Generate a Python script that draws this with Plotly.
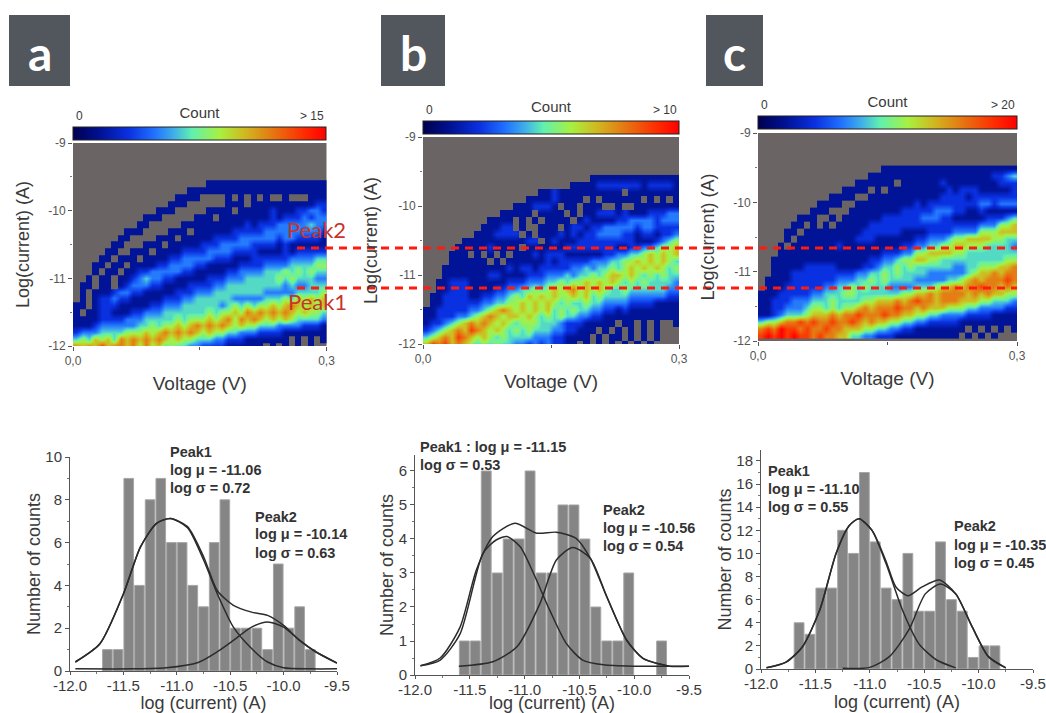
import plotly.graph_objects as go

W, H = 1046, 713
ROW_STEP = 0.1
N_COLS = 40

# ---- Heatmap levels: '.' = empty, 0-9 = tenths of the colour range.
# Rows run from the top of the filled area down, in groups of ten columns.
row_tops = [-9.6, -9.6, -9.52]
heat_a = [
".......... .......... .111111111 1111111111",
".......... ........11 1111111111 1111111111",
".......... ......1111 ....1.1.1. 1..1...111",
".......... .....111.. ....111.11 1111111122",
".......... ...111.... .1111.1111 1211122332",
".......... .111.....1 11.1111111 1212223233",
".......... 11.....111 1111111212 2233333433",
"........11 1....111.1 1111122222 3333333332",
".......11. ...111.111 1122223333 3323322221",
"......11.. .111.11111 2223333322 2212111111",
".....11..1 11.1111222 2333322221 1112122222",
"....11.111 .111122333 3322211122 2222333344",
"...11.11.1 1112233332 2111112222 3333444455",
"...1.11.11 2233333221 1111223333 4445454544",
"..1.11.112 3433221111 1222333444 4454544433",
".11.11.123 3322111122 2233444444 4443433444",
".1.1112332 2111112223 3344444444 3333344445",
".1.1223221 1111222334 4444433333 4445465656",
"11.1222111 1122333444 4443454545 5656765656",
"1.11221112 2333444444 4545565767 6767656554",
"1111222233 3444445455 5656757676 5656544443",
"1112333333 4454556567 6767656554 4433332221",
"2333444455 5656767676 5655443332 2221111111",
"4546564767 6767656554 4433222111 1111.1.1.1",
"7676867767 5756454433 2222111111 .1.1.1.1..",
]
heat_b = [
".......... .......... ......1111 1111111111",
".......... .......... ...1111222 2222122221",
".......... ........11 2111111111 1.11111111",
".......... ......1111 21111.1.11 1111.1.1.1",
".......... ....111222 1.11.111.. 1..1111111",
".......... ..11111.11 11.1.11222 1211122233",
".......... 1111.1.1.1 111.121111 2233332333",
".........1 1122.1..11 1.12212233 3332332222",
"........11 12222.1.11 1212122333 3221221223",
"......1111 11111122.1 2111222222 2221112345",
".....11111 21111.1111 1122222222 1122334556",
"....111.1. 1.1.111212 2211111122 3344565656",
"....111111 .1.1111112 1222223334 4556565654",
"...1111111 1112122122 2223343445 4565656545",
"...1111111 2211112223 3343445456 6565454544",
"..11222111 1112223334 4545565656 5454544443",
"..11222111 1223344545 6567565654 4544444433",
".112222112 2334546565 6556564544 4433333322",
".112222223 3445565656 5454454433 3322221111",
"1122222334 5676565656 4545443322 1211111111",
"1122233456 7656656545 4544332211 1111111111",
"1223456767 6565455544 4322211111 .11.1.1..1",
"2345676876 5654545444 3322111.1. 1.1.1.1...",
"4567687656 5454444333 221111.1.1 1.1.1.1...",
"6878676545 4544332323 2211.1.1.1 .1.1.1....",
]
heat_c = [
".......... .........1 1111111111 1111111111",
".......... .......111 1111111111 1111112234",
".......... .....11111 1.11111121 1111111222",
".......... ...1111.1. 1111111112 1222111112",
".......... .1111..111 1111111122 2212222222",
".........1 111..11111 1111212222 2222332333",
"........11 1...111111 1122222333 2211211111",
"......111. .1.1111112 2222233322 1111122234",
".....11.1. 1.11111222 2222222222 2222333556",
"....11.111 1111112222 2211112222 3333555666",
"....1.1111 1111122211 1111223334 5566665544",
"...1.11111 1121111111 1122334455 6655544443",
"...1111111 1111111112 2233556666 5544444444",
"..11111111 1111111223 3455665544 4444444455",
"..11111222 2211112234 4545444444 3344555667",
"..11122222 2222233445 4544443333 3345667677",
".111122222 2233344545 4444333334 4567677787",
".111222222 3344545444 3333444566 7677877676",
"1112222233 4445544444 4455667677 7767676655",
"1122233344 4544445566 6767877677 7666554443",
"1122333455 4545567677 7877676665 5544333322",
"1123444566 6767787778 7766554433 3322221111",
"4556778787 7877876766 5544332222 2111111111",
"7879887877 8776665544 3322111111 11.1.1.1.1",
"8989898878 7766443322 2111111111 1.1.1.1...",
]
count_max = [15, 10, 20]
count_labels = ["> 15", "> 10", "> 20"]

# ---- Histograms
bins_a = [-11.7,-11.6,-11.5,-11.4,-11.3,-11.2,-11.1,-11.0,-10.9,-10.8,-10.7,-10.6,-10.5,-10.4,-10.3,-10.2,-10.1,-10.0,-9.9,-9.8]
counts_a = [1,1,9,4,8,9,6,6,4,3,6,8,2,2,2,1,5,2,3,1]
bins_b = [-11.6,-11.5,-11.4,-11.3,-11.2,-11.1,-11.0,-10.9,-10.8,-10.7,-10.6,-10.5,-10.4,-10.3,-10.2,-10.1,-9.8]
counts_b = [1,1,6,3,4,4,6,3,3,5,5,4,2,1,1,3,1]
bins_c = [-11.7,-11.6,-11.5,-11.4,-11.3,-11.2,-11.1,-11.0,-10.9,-10.8,-10.7,-10.6,-10.5,-10.4,-10.3,-10.2,-10.1,-10.0,-9.9]
counts_c = [4,3,7,7,12,10,17,11,7,6,10,5,5,11,6,5,1,2,2]

# ---- Fit curves, read point by point
a_p1_x = [-11.95,-11.72,-11.5,-11.34,-11.19,-11.06,-10.9,-10.75,-10.62,-10.47,-10.3,-10.15,-10.0,-9.75,-9.5]
a_p1_y = [0.42,1.27,3.6,5.8,6.9,7.13,6.7,5.2,3.6,2.05,1.05,0.42,0.15,0.1,0.1]
a_p2_x = [-11.95,-11.4,-11.1,-10.8,-10.62,-10.47,-10.3,-10.15,-10.0,-9.85,-9.7,-9.5]
a_p2_y = [0.1,0.1,0.15,0.4,0.9,1.43,2.05,2.29,2.05,1.43,0.9,0.37]
a_sum_x = [-11.95,-11.72,-11.5,-11.34,-11.19,-11.06,-10.9,-10.75,-10.62,-10.47,-10.3,-10.15,-10.0,-9.85,-9.7,-9.5]
a_sum_y = [0.42,1.27,3.6,5.8,6.9,7.13,6.75,5.35,3.75,3.07,2.75,2.6,2.13,1.43,0.9,0.37]

b_p1_x = [-11.95,-11.77,-11.59,-11.38,-11.26,-11.16,-11.04,-10.92,-10.77,-10.62,-10.47,-10.28,-10.0,-9.5]
b_p1_y = [0.27,0.44,1.2,3.58,3.97,4.07,3.77,3.0,1.9,0.93,0.44,0.3,0.26,0.26]
b_p2_x = [-11.6,-11.29,-11.07,-10.86,-10.71,-10.56,-10.4,-10.25,-10.07,-9.92,-9.68,-9.5]
b_p2_y = [0.26,0.39,0.83,2.1,3.38,3.75,3.43,2.3,1.03,0.49,0.26,0.26]
b_sum_x = [-11.95,-11.77,-11.59,-11.44,-11.29,-11.09,-10.89,-10.71,-10.53,-10.4,-10.25,-10.07,-9.92,-9.68]
b_sum_y = [0.27,0.5,1.4,3.09,4.07,4.46,4.17,4.2,4.02,3.43,2.3,1.03,0.49,0.26]

c_p1_x = [-11.95,-11.77,-11.62,-11.46,-11.31,-11.19,-11.1,-10.98,-10.85,-10.7,-10.55,-10.39,-10.21]
c_p1_y = [0.1,0.6,1.9,5.1,10,12.4,13,12,9.1,5.1,2.2,0.8,0.1]
c_p2_x = [-11.25,-11.0,-10.82,-10.64,-10.49,-10.35,-10.21,-10.06,-9.91,-9.75]
c_p2_y = [0.06,0.14,1.07,3.4,6.5,7.35,6.5,3.66,1.07,0.1]
c_sum_x = [-11.95,-11.77,-11.62,-11.46,-11.31,-11.19,-11.1,-10.98,-10.85,-10.76,-10.65,-10.52,-10.36,-10.21,-10.06,-9.91,-9.75]
c_sum_y = [0.1,0.6,1.9,5.1,10,12.4,13,12,9.3,7.1,6.34,7.1,7.7,6.5,3.66,1.07,0.1]

hist_x_ticks = [-12.0,-11.5,-11.0,-10.5,-10.0,-9.5]
hist_x_labels = ["-12.0","-11.5","-11.0","-10.5","-10.0","-9.5"]

JET = [
    [0.00,"#00004f"],[0.10,"#00108f"],[0.22,"#0a30e0"],[0.32,"#2070ff"],[0.40,"#40b0e8"],
    [0.47,"#60f0b0"],[0.58,"#a8f040"],[0.68,"#d0b820"],[0.80,"#e87010"],[0.92,"#ff2800"],[1.00,"#ff0000"],
]
TXT = "#3a3a3a"
FONT = "Liberation Sans"

# pixel frames: left, right, top, bottom
heat_boxes = [(73,326.5,143,346),(423,679,137,344),(758,1017,133,341)]
cbar_boxes = [(73,326,128,141),(423,679,122,135),(758,1017,117,130)]
hist_boxes = [(70,337,457,671),(415,689,455,675),(761,1033,450,669)]
hist_yranges = [[0,10],[0,6.47],[0,18.95]]
hist_yticks = [[0,2,4,6,8,10],[0,1,2,3,4,5,6],list(range(0,20,2))]
hist_yminor = [[1,3,5,7,9],[0.5,1.5,2.5,3.5,4.5,5.5],list(range(1,19,2))]
heat_title_standoff = [13, 15, 13]

def fx(p): return p / W
def fy(p): return 1 - p / H

def parse(rows, top):
    z = []
    for r in rows:
        s = r.replace(" ", "")
        s = s.ljust(N_COLS, s[-1])[:N_COLS]
        z.append([None if c == "." else int(c) / 9 * top for c in s])
    return z

fig = go.Figure()
layout = {}
shapes, ann = [], []

for i, (rows, top) in enumerate(zip([heat_a, heat_b, heat_c], count_max)):
    n = 2 * i + 1
    xa, ya = ("x" if n == 1 else f"x{n}"), ("y" if n == 1 else f"y{n}")
    L, R, T, B = heat_boxes[i]
    cL, cR, cT, cB = cbar_boxes[i]
    xc = [(k + 0.5) / N_COLS * 0.3 for k in range(N_COLS)]
    yc = [row_tops[i] - ROW_STEP * k for k in range(len(rows))]
    ca = "coloraxis" if i == 0 else f"coloraxis{i+1}"
    fig.add_trace(go.Heatmap(x=xc, y=yc, z=parse(rows, top), coloraxis=ca, zsmooth="best",
                             xaxis=xa, yaxis=ya, hoverongaps=False, showlegend=False))
    layout[ca] = dict(cmin=0, cmax=top, colorscale=JET, colorbar=dict(
        orientation="h", x=fx(cL), xanchor="left", y=fy(cB), yanchor="bottom",
        len=cR - cL, lenmode="pixels", thickness=cB - cT, thicknessmode="pixels",
        xpad=0, ypad=0, outlinewidth=1, outlinecolor="#222222", showticklabels=False, ticks="",
        title=dict(text="Count", side="top", font=dict(size=15, color=TXT, family=FONT))))
    ann.append(dict(text="0", xref="paper", yref="paper", x=fx(cL + 6), y=fy(cT - 3), yanchor="bottom",
                    xanchor="center", showarrow=False, font=dict(size=12, color=TXT, family=FONT)))
    ann.append(dict(text=count_labels[i], xref="paper", yref="paper", x=fx(cR), y=fy(cT - 3), yanchor="bottom",
                    xanchor="right", showarrow=False, font=dict(size=12, color=TXT, family=FONT)))
    xk = "xaxis" if n == 1 else f"xaxis{n}"
    yk = "yaxis" if n == 1 else f"yaxis{n}"
    layout[xk] = dict(domain=[fx(L), fx(R)], range=[0, 0.3], anchor=ya, tickvals=[0, 0.3], ticktext=["0,0", "0,3"],
                      ticks="outside", ticklen=4, tickcolor="#555", showgrid=False, zeroline=False, showline=False,
                      minor=dict(tickvals=[0.15], ticks="outside", ticklen=3, tickcolor="#555"),
                      tickfont=dict(size=12, color="#555", family=FONT),
                      title=dict(text="Voltage (V)", standoff=9, font=dict(size=19, color=TXT, family=FONT)))
    layout[yk] = dict(domain=[fy(B), fy(T)], range=[-12, -9], anchor=xa, tickvals=[-9, -10, -11, -12],
                      ticktext=["-9", "-10", "-11", "-12"], ticks="outside", ticklen=4, tickcolor="#555",
                      showgrid=False, zeroline=False, showline=False,
                      minor=dict(tickvals=[-9.5, -10.5, -11.5], ticks="outside", ticklen=2, tickcolor="#777"),
                      tickfont=dict(size=12, color="#555", family=FONT),
                      title=dict(text="Log(current) (A)", standoff=heat_title_standoff[i], font=dict(size=18, color=TXT, family=FONT)))
    shapes.append(dict(type="rect", xref=f"{xa} domain", yref=f"{ya} domain", x0=0, x1=1, y0=0, y1=1,
                       fillcolor="#6b6464", line_width=0, layer="below"))

hist_data = [
    (bins_a, counts_a, [(a_p1_x, a_p1_y), (a_p2_x, a_p2_y), (a_sum_x, a_sum_y)]),
    (bins_b, counts_b, [(b_p1_x, b_p1_y), (b_p2_x, b_p2_y), (b_sum_x, b_sum_y)]),
    (bins_c, counts_c, [(c_p1_x, c_p1_y), (c_p2_x, c_p2_y), (c_sum_x, c_sum_y)]),
]
for i, (bins, counts, curves) in enumerate(hist_data):
    n = 2 * i + 2
    xa, ya = f"x{n}", f"y{n}"
    L, R, T, B = hist_boxes[i]
    fig.add_trace(go.Bar(x=[b + 0.05 for b in bins], y=counts, width=0.09, xaxis=xa, yaxis=ya,
                         marker=dict(color="#858585", line=dict(color="#a6a6a6", width=1)), showlegend=False))
    for cx, cy in curves:
        fig.add_trace(go.Scatter(x=cx, y=cy, mode="lines", xaxis=xa, yaxis=ya, showlegend=False,
                                 line=dict(color="#2b2b2b", width=1.5, shape="spline", smoothing=0.7)))
    layout[f"xaxis{n}"] = dict(domain=[fx(L), fx(R)], range=[-12, -9.5], anchor=ya, tickvals=hist_x_ticks,
                               ticktext=hist_x_labels, ticks="outside", ticklen=3, showgrid=False, zeroline=False,
                               ticklabelstandoff=-2,
                               showline=True, linecolor="#555", linewidth=1, tickcolor="#555",
                               minor=dict(tickvals=[-11.75,-11.25,-10.75,-10.25,-9.75], ticks="outside", ticklen=2, tickcolor="#777"),
                               tickfont=dict(size=15, color=TXT, family=FONT),
                               title=dict(text="log (current) (A)", standoff=3, font=dict(size=18, color=TXT, family=FONT)))
    layout[f"yaxis{n}"] = dict(domain=[fy(B), fy(T)], range=hist_yranges[i], anchor=xa, tickvals=hist_yticks[i],
                               ticks="outside", ticklen=4, showgrid=False, zeroline=False,
                               showline=True, linecolor="#555", linewidth=1, tickcolor="#555",
                               minor=dict(tickvals=hist_yminor[i], ticks="outside", ticklen=2, tickcolor="#777"),
                               tickfont=dict(size=15, color=TXT, family=FONT),
                               title=dict(text="Number of counts", standoff=0, font=dict(size=18, color=TXT, family=FONT)))

# Peak text blocks: text, left px, centre px
peak_notes = [
    ("Peak1", 168, 452), ("log \u03bc = -11.06", 168, 470), ("log \u03c3 = 0.72", 168, 488),
    ("Peak2", 253, 517), ("log \u03bc = -10.14", 253, 534), ("log \u03c3 = 0.63", 253, 553),
    ("Peak1 : log \u03bc = -11.15", 418, 447), ("log \u03c3 = 0.53", 418, 465),
    ("Peak2", 601, 510), ("log \u03bc = -10.56", 601, 528), ("log \u03c3 = 0.54", 601, 546),
    ("Peak1", 766, 471), ("log \u03bc = -11.10", 766, 489), ("log \u03c3 = 0.55", 766, 507),
    ("Peak2", 952, 526), ("log \u03bc = -10.35", 952, 545), ("log \u03c3 = 0.45", 952, 563),
]
for t, x, y in peak_notes:
    ann.append(dict(text=f"<b>{t}</b>", xref="paper", yref="paper", x=fx(x), y=fy(y), xanchor="left", yanchor="middle",
                    showarrow=False, font=dict(size=14.5, color="#333", family=FONT)))

# Red guide lines and their labels
for y in (248, 288):
    shapes.append(dict(type="line", xref="paper", yref="paper", x0=fx(297), x1=fx(1017), y0=fy(y), y1=fy(y),
                       line=dict(color="#ff1a10", width=3, dash="8px,6px")))
for t, x, y in (("Peak2", 285, 230), ("Peak1", 286, 302)):
    ann.append(dict(text=t, xref="paper", yref="paper", x=fx(x), y=fy(y), xanchor="left", yanchor="middle",
                    showarrow=False, font=dict(size=22, color="#c8352a", family="Lato")))

# Panel badges
for t, (x0, x1, y0, y1) in zip("abc", [(9,70,15,86), (381,445,15,86), (706,763,15,86)]):
    shapes.append(dict(type="rect", xref="paper", yref="paper", x0=fx(x0), x1=fx(x1), y0=fy(y0), y1=fy(y1),
                       fillcolor="#52565d", line_width=0, layer="below"))
    ann.append(dict(text=f"<b>{t}</b>", xref="paper", yref="paper", x=fx((x0 + x1) / 2), y=fy(52), xanchor="center",
                    yanchor="middle", showarrow=False, font=dict(size=48, color="white", family="Lato")))

fig.update_layout(width=W, height=H, margin=dict(l=0, r=0, t=0, b=0, autoexpand=False), paper_bgcolor="white",
                  plot_bgcolor="rgba(0,0,0,0)", showlegend=False, shapes=shapes, annotations=ann,
                  font=dict(family=FONT), **layout)
fig.write_html("out.html", config=dict(displayModeBar=False), post_script="document.body.style.margin='0';")
